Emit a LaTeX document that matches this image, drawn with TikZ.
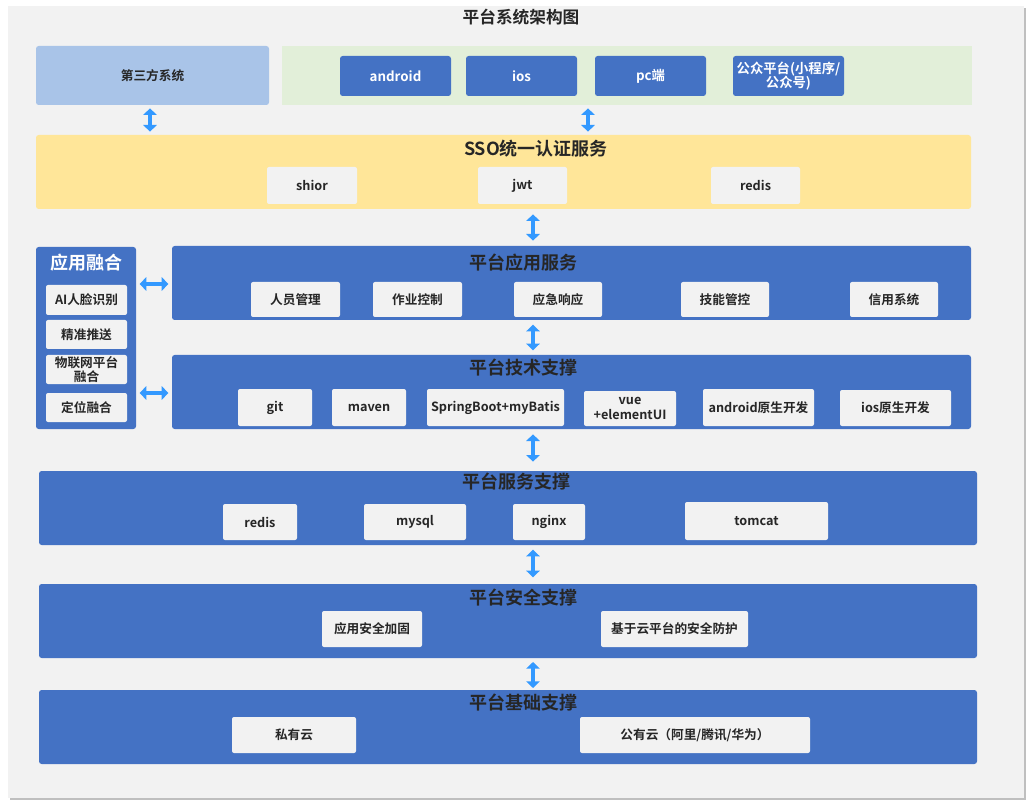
\documentclass[tikz,border=0pt]{standalone}
\usepackage{fontspec}
\setmainfont{Noto Sans CJK SC}[BoldFont={Noto Sans CJK SC Bold}]
\usetikzlibrary{arrows.meta}
\definecolor{blu}{HTML}{4472C4}
\definecolor{lbl}{HTML}{A9C4E8}
\definecolor{grn}{HTML}{E2EFD9}
\definecolor{yel}{HTML}{FFE699}
\definecolor{gry}{HTML}{F2F2F2}
\definecolor{arr}{HTML}{3399FF}
\definecolor{txt}{HTML}{262626}
\tikzset{
 big/.style={draw=none,fill=blu,rounded corners=2pt,inner sep=0pt},
 item/.style={draw=none,fill=gry,rounded corners=1.5pt,inner sep=0pt,font=\fontsize{9.5}{10}\selectfont\bfseries,text=txt,align=center},
 btn/.style={draw=none,fill=blu,rounded corners=2pt,inner sep=0pt,font=\fontsize{10}{11}\selectfont\bfseries,text=white,align=center},
 ttl/.style={font=\fontsize{13.5}{15}\selectfont\bfseries,text=txt},
 dar/.style={{Triangle[width=10pt,length=5pt]}-{Triangle[width=10pt,length=5pt]},line width=3.2pt,draw=arr,shorten <=2.5pt,shorten >=2.5pt},
}
\newcommand\bx[7]{\node[#1,minimum width={(#4-#2)*0.75pt},minimum height={(#5-#3)*0.75pt}] (#6) at ({(#2+#4)/2},{(#3+#5)/2}) {#7};}
\begin{document}
\begin{tikzpicture}[x=0.75pt,y=-0.75pt]
\useasboundingbox (0,0) rectangle (1031,805);
\fill[black!25] (10,8) rectangle (1026,800);
\bx{fill=gry,draw=none}{8}{6}{1024}{798}{bg}{}
\node[ttl,font=\fontsize{12.5}{13}\selectfont\bfseries] (title) at (521,17) {平台系统架构图};
% top
\bx{fill=lbl,rounded corners=2pt,font=\fontsize{9.5}{10}\selectfont\bfseries,text=txt}{36}{46}{269}{105}{third}{第三方系统}
\bx{fill=grn}{282}{46}{972}{105}{green}{}
\bx{btn}{340}{56}{451}{96}{andr}{android}
\bx{btn}{466}{56}{577}{96}{ios}{ios}
\bx{btn}{595}{56}{706}{96}{pc}{pc端}
\bx{btn}{733}{56}{844}{96}{gzh}{公众平台(小程序/\\公众号)}
% SSO
\bx{fill=yel,rounded corners=2pt}{36}{135}{971}{209}{sso}{}
\node[ttl] at (536,149) {SSO统一认证服务};
\bx{item}{267}{167}{357}{204}{shior}{shior}
\bx{item}{478}{167}{567}{204}{jwt}{jwt}
\bx{item}{711}{167}{800}{204}{redisA}{redis}
% fusion
\bx{big}{36}{247}{136}{429}{fus}{}
\node[ttl,text=white] at (86,263) {应用融合};
\bx{item}{46}{285}{127}{315}{f1}{AI人脸识别}
\bx{item}{46}{320}{127}{349}{f2}{精准推送}
\bx{item}{46}{355}{127}{384}{f3}{物联网平台\\[1pt]融合}
\bx{item}{46}{393}{127}{422}{f4}{定位融合}
% app
\bx{big}{172}{246}{971}{320}{app}{}
\node[ttl] at (523,263) {平台应用服务};
\bx{item}{251}{282}{340}{317}{a1}{人员管理}
\bx{item}{373}{282}{462}{317}{a2}{作业控制}
\bx{item}{514}{282}{602}{317}{a3}{应急响应}
\bx{item}{681}{282}{769}{317}{a4}{技能管控}
\bx{item}{850}{282}{938}{317}{a5}{信用系统}
% tech
\bx{big}{172}{355}{971}{429}{tech}{}
\node[ttl] at (523,368) {平台技术支撑};
\bx{item}{238}{389}{312}{426}{t1}{git}
\bx{item}{332}{389}{406}{426}{t2}{maven}
\bx{item}{427}{389}{564}{426}{t3}{SpringBoot+myBatis}
\bx{item}{584}{391}{676}{426}{t4}{vue\\[1pt]+elementUI}
\bx{item}{703}{389}{814}{426}{t5}{android原生开发}
\bx{item}{840}{390}{951}{426}{t6}{ios原生开发}
% service
\bx{big}{39}{471}{977}{545}{serv}{}
\node[ttl] at (516,482) {平台服务支撑};
\bx{item}{223}{504}{297}{540}{s1}{redis}
\bx{item}{364}{504}{466}{540}{s2}{mysql}
\bx{item}{513}{504}{585}{540}{s3}{nginx}
\bx{item}{685}{502}{828}{540}{s4}{tomcat}
% security
\bx{big}{39}{584}{977}{658}{sec}{}
\node[ttl] at (523,598) {平台安全支撑};
\bx{item}{322}{611}{422}{647}{c1}{应用安全加固}
\bx{item}{601}{611}{748}{647}{c2}{基于云平台的安全防护}
% base
\bx{big}{39}{690}{977}{764}{base}{}
\node[ttl] at (523,703) {平台基础支撑};
\bx{item}{232}{717}{356}{753}{b1}{私有云}
\bx{item}{580}{717}{810}{753}{b2}{公有云（阿里/腾讯/华为）}
% arrows
\coordinate (c1t) at (150,105); \coordinate (c1b) at (150,135);
\draw[dar] (c1t) -- (c1b);
\coordinate (c2t) at (588,105); \coordinate (c2b) at (588,135);
\draw[dar] (c2t) -- (c2b);
\coordinate (c3t) at (533,209); \coordinate (c3b) at (533,246);
\draw[dar,shorten <=4pt,shorten >=4pt] (c3t) -- (c3b);
\coordinate (c4t) at (533,320); \coordinate (c4b) at (533,355);
\draw[dar,shorten <=3.5pt,shorten >=3.5pt] (c4t) -- (c4b);
\coordinate (c5t) at (533,429); \coordinate (c5b) at (533,471);
\draw[dar,shorten <=4pt,shorten >=7pt] (c5t) -- (c5b);
\coordinate (c6t) at (533,545); \coordinate (c6b) at (533,584);
\draw[dar,shorten <=3.5pt,shorten >=5pt] (c6t) -- (c6b);
\coordinate (c7t) at (533,658); \coordinate (c7b) at (533,690);
\draw[dar,shorten <=3pt,shorten >=1.5pt] (c7t) -- (c7b);
\draw[dar] (fus.east |- 0,284) -- (app.west |- 0,284);
\draw[dar] (fus.east |- 0,393) -- (tech.west |- 0,393);
\end{tikzpicture}
\end{document}
